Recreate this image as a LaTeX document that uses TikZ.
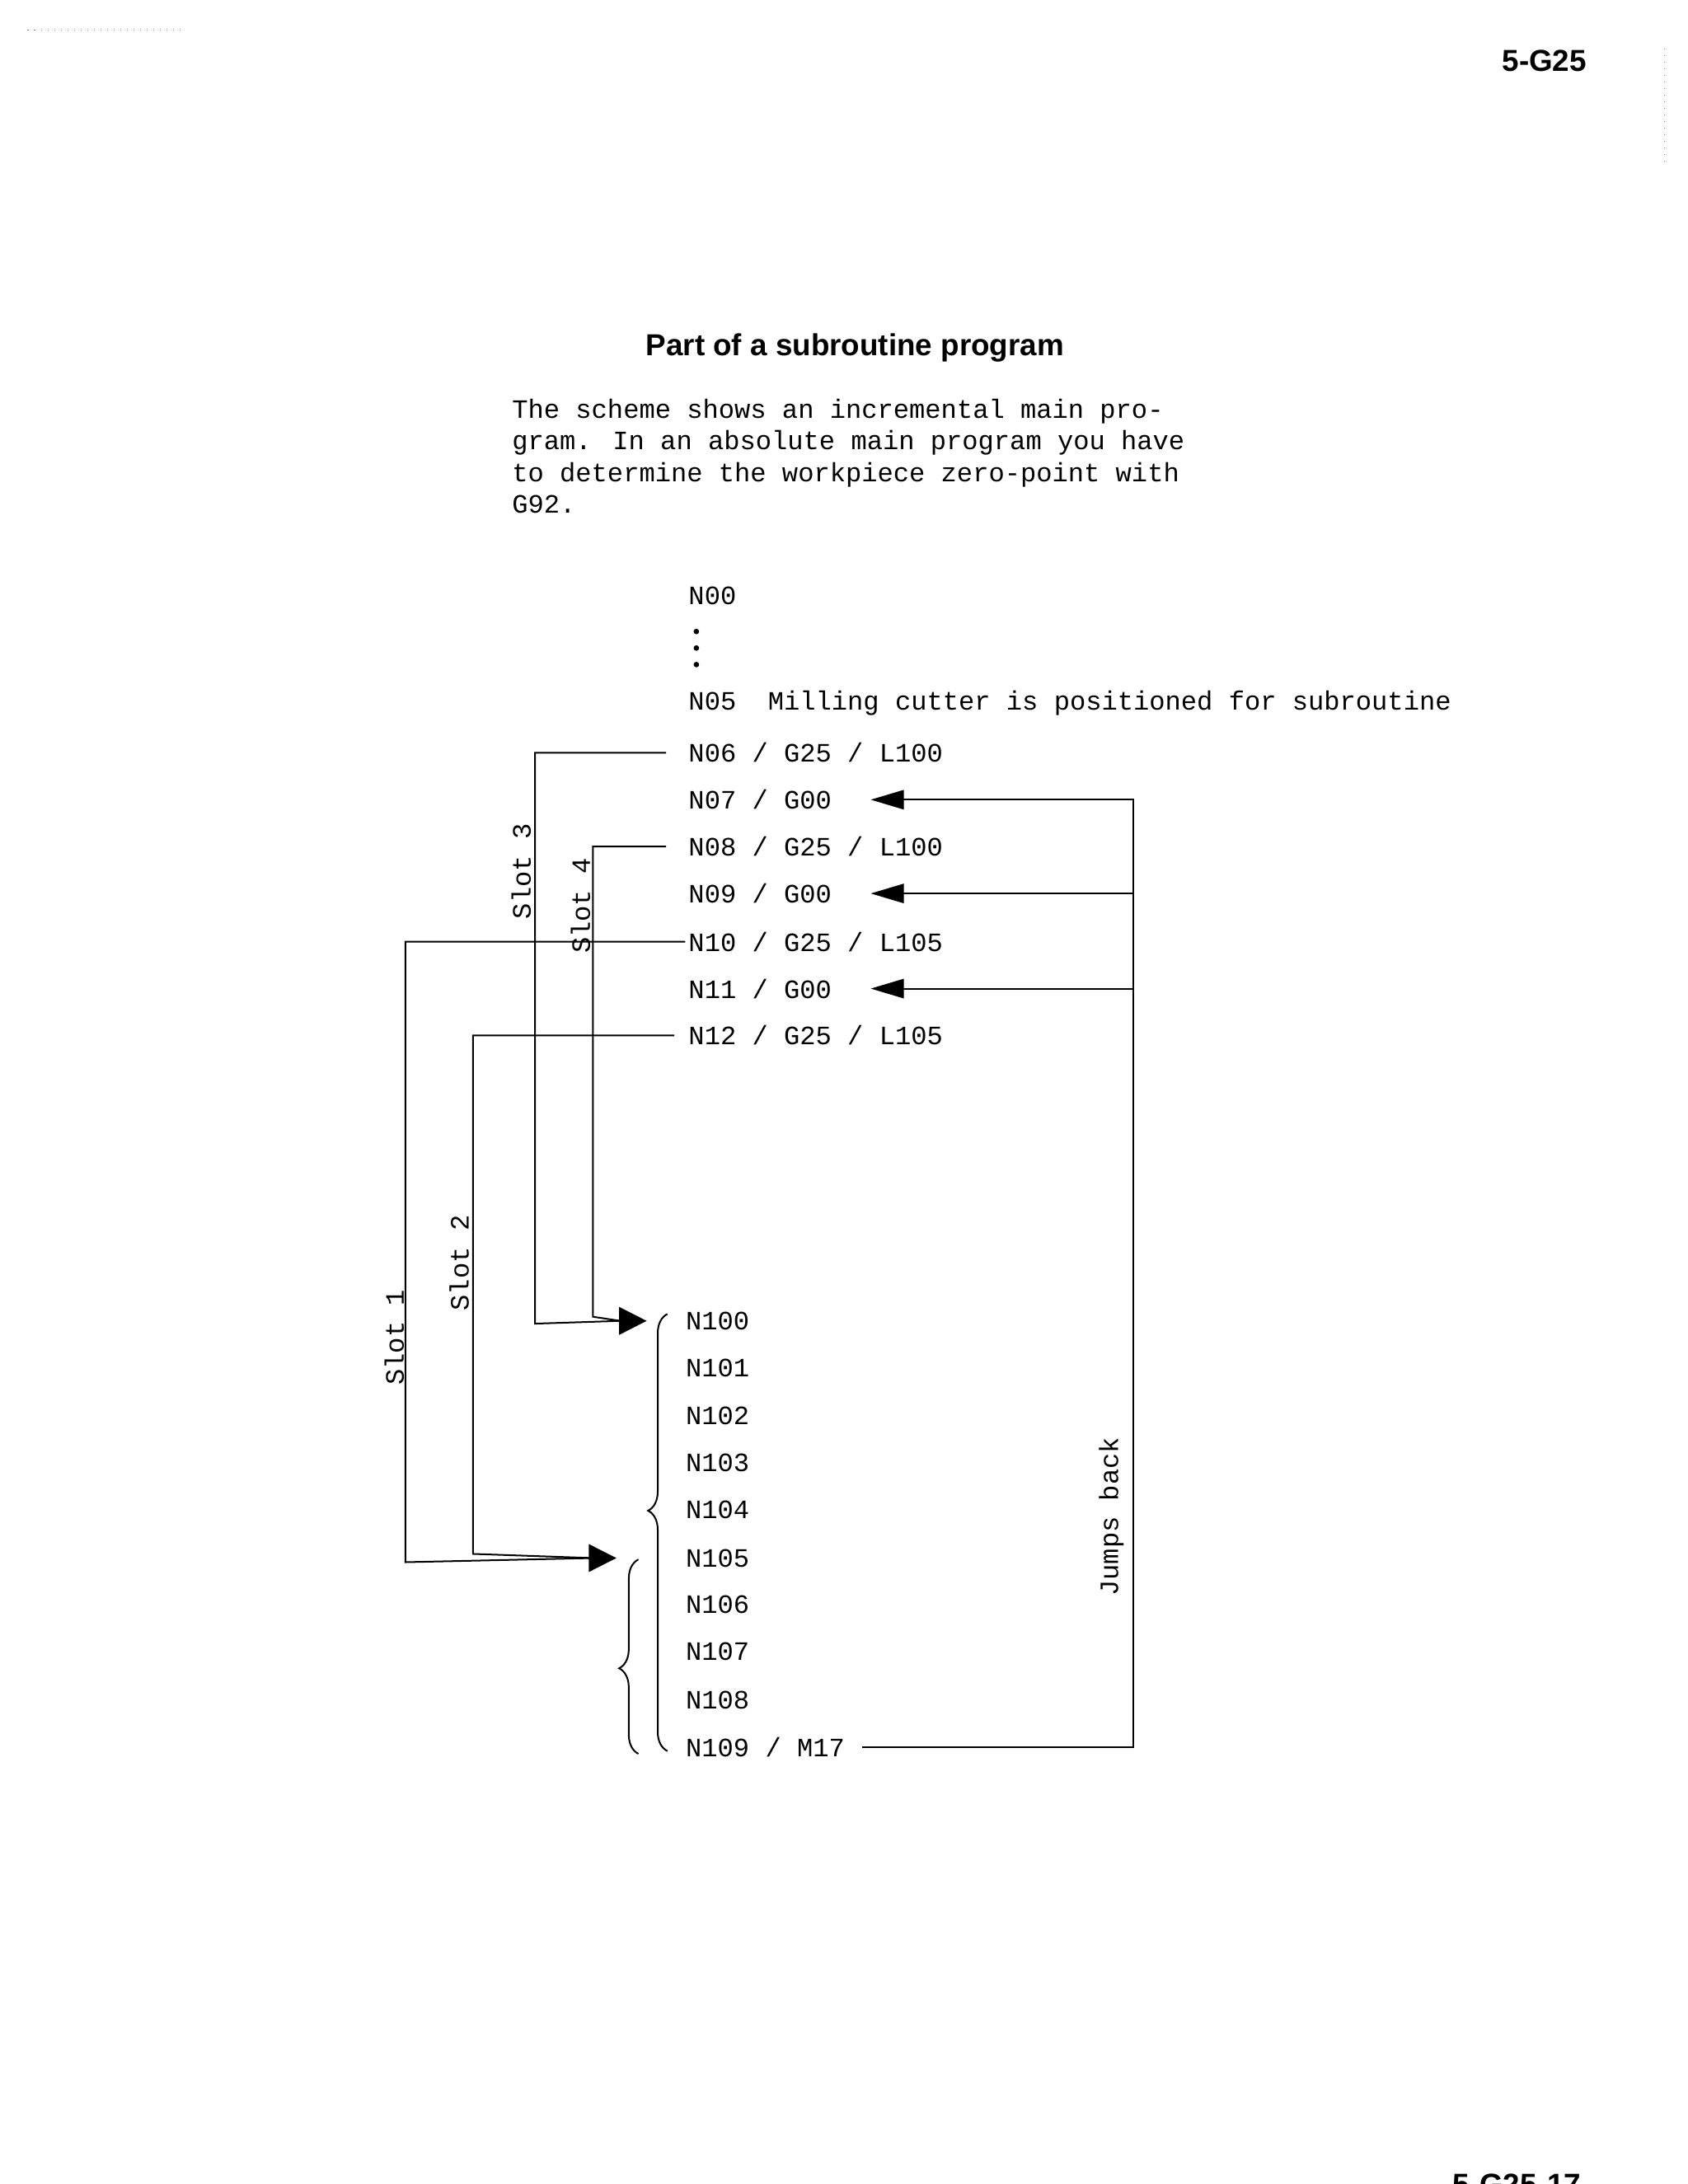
\documentclass[tikz,border=0pt]{standalone}
\usepackage{fontspec}
\setmainfont{Liberation Sans}
\newfontfamily\monof{Liberation Mono}
\usetikzlibrary{arrows.meta,decorations.pathreplacing}
\tikzset{
  code/.style={font=\monof\fontsize{9.6}{11.5}\selectfont, anchor=west, inner sep=0pt},
  lbl/.style={font=\monof\fontsize{9.6}{11.5}\selectfont, rotate=90, inner sep=0pt},
  wire/.style={line width=0.6pt},
  bighead/.style={-{Triangle[length=10pt,width=10pt]}, line width=0.6pt},
  backhead/.style={-{Triangle[length=12pt,width=7pt]}, line width=0.6pt},
  brc/.style={decorate, line width=0.6pt},
  dotn/.style={circle, fill=black, inner sep=0pt, minimum size=2pt}
}
\begin{document}
\begin{tikzpicture}[x=0.5pt,y=-0.5pt]
\useasboundingbox (0,0) rectangle (1224,1584);
\fill[white] (0,0) rectangle (1224,1584);
\clip (0,0) rectangle (1224,1584);
\draw[dotted, gray] (20,22) -- (135,22);
\draw[dotted, gray] (1207,35) -- (1207,120);
\node[font=\bfseries\fontsize{11}{13}\selectfont] (hdr) at (1120,44) {5-G25};
\node[font=\bfseries\fontsize{11}{13}\selectfont] (title) at (620,252) {Part of a subroutine program};
\node[font=\monof\fontsize{9.6}{11.5}\selectfont, anchor=north west, inner sep=0pt, align=left] (para) at (371,289)
 {The scheme shows an incremental main pro-\\gram. In an absolute main program you have\\to determine the workpiece zero-point with\\G92.};
\node[code] (n00) at (499,432) {N00};
\node[dotn] (d1) at (505,458) {};
\node[dotn] (d2) at (505,470) {};
\node[dotn] (d3) at (505,482) {};
\node[code] (n05) at (499,510) {N05\ \ Milling cutter is positioned for subroutine};
\node[code] (n06) at (499,546) {N06 / G25 / L100};
\node[code] (n07) at (499,580) {N07 / G00};
\node[code] (n08) at (499,614) {N08 / G25 / L100};
\node[code] (n09) at (499,648) {N09 / G00};
\node[code] (n10) at (499,683) {N10 / G25 / L105};
\node[code] (n11) at (499,717) {N11 / G00};
\node[code] (n12) at (499,751) {N12 / G25 / L105};
\node[code] (n100) at (497,958) {N100};
\node[code] (n101) at (497,992) {N101};
\node[code] (n102) at (497,1027) {N102};
\node[code] (n103) at (497,1061) {N103};
\node[code] (n104) at (497,1095) {N104};
\node[code] (n105) at (497,1130) {N105};
\node[code] (n106) at (497,1164) {N106};
\node[code] (n107) at (497,1198) {N107};
\node[code] (n108) at (497,1233) {N108};
\node[code] (n109) at (497,1267) {N109 / M17};
% slot connectors
\coordinate (a100) at (450,958);
\coordinate (a105) at (430,1130);
\draw[wire] ([xshift=-8pt]n06.west) -| (388,960) -- (a100);
\draw[wire] ([xshift=-8pt]n08.west) -| (430,955) -- (a100);
\draw[bighead] (a100) -- ([xshift=-14pt]n100.west);
\draw[wire] ([xshift=-1pt]n10.west) -| (294,1133) -- (a105);
\draw[wire] ([xshift=-5pt]n12.west) -| (343,1127) -- (a105);
\draw[bighead] (a105) -- ([xshift=-25pt]n105.west);
\node[lbl] (s3) at (378,632) {Slot 3};
\node[lbl] (s4) at (421,657) {Slot 4};
\node[lbl] (s2) at (333,916) {Slot 2};
\node[lbl] (s1) at (286,970) {Slot 1};
% jumps back
\coordinate (jb) at (822,1267);
\draw[wire] ([xshift=6pt]n109.east) -- (jb) -- (822,580) -- (658,580);
\draw[wire] (822,648) -- (658,648);
\draw[wire] (822,717) -- (658,717);
\draw[backhead] (660,580) -- ([xshift=14pt]n07.east);
\draw[backhead] (660,648) -- ([xshift=14pt]n09.east);
\draw[backhead] (660,717) -- ([xshift=14pt]n11.east);
\node[lbl] (jbl) at (806,1100) {Jumps back};
% braces
\draw[brc, decoration={brace, amplitude=7pt, aspect=0.55}] (484,1270) -- (484,953);
\draw[brc, decoration={brace, amplitude=7pt, aspect=0.44}] (463,1272) -- (463,1131);
\node[font=\bfseries\fontsize{11}{13}\selectfont, anchor=base] (foot) at (1100,1592) {5-G25-17};
\end{tikzpicture}
\end{document}
